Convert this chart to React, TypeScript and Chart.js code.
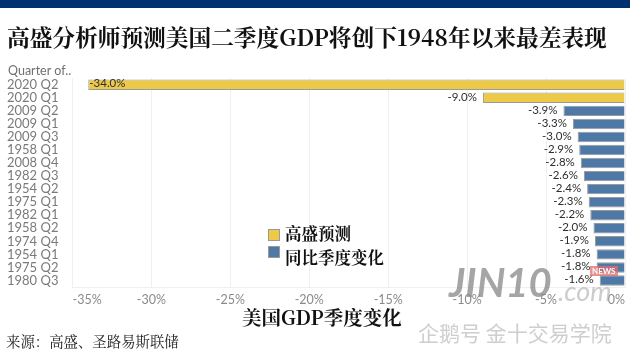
import React, { useEffect, useRef } from "react";
import { Chart, registerables } from "chart.js";

Chart.register(...registerables);

const categories = ["2020 Q2","2020 Q1","2009 Q2","2009 Q1","2009 Q3","1958 Q1","2008 Q4","1982 Q3","1954 Q2","1975 Q1","1982 Q1","1958 Q2","1974 Q4","1954 Q1","1975 Q2","1980 Q3"];
const forecast = [-34, -9, null, null, null, null, null, null, null, null, null, null, null, null, null, null];
const yoyChange = [null, null, -3.9, -3.3, -3.0, -2.9, -2.8, -2.6, -2.4, -2.3, -2.2, -2.0, -1.9, -1.8, -1.8, -1.6];
const titleText = "高盛分析师预测美国二季度GDP将创下1948年以来最差表现";
const xTitle = "美国GDP季度变化";
const legendNames = ["高盛预测", "同比季度变化"];
const YELLOW = "#EDC948";
const BLUE = "#4E79A7";
const SERIF = '"Noto Serif CJK SC","Liberation Serif","Noto Sans CJK SC",serif';
const SANS = 'Lato,"Open Sans",sans-serif';

const valueLabels = {
  id: "valueLabels",
  afterDatasetsDraw(chart: any) {
    const { ctx, chartArea } = chart;
    ctx.save();
    ctx.font = `11.5px ${SANS}`;
    ctx.fillStyle = "#2e2e2e";
    ctx.textBaseline = "middle";
    chart.data.datasets.forEach((ds: any, di: number) => {
      chart.getDatasetMeta(di).data.forEach((el: any, i: number) => {
        const v = ds.data[i];
        if (v == null) return;
        const s = v.toFixed(1) + "%";
        const w = ctx.measureText(s).width;
        if (el.x - 6 - w < chartArea.left) {
          ctx.textAlign = "left";
          ctx.fillText(s, el.x + 1, el.y - 1);
        } else {
          ctx.textAlign = "right";
          ctx.fillText(s, el.x - 6, el.y - 1);
        }
      });
    });
    ctx.restore();
  },
};

const abs = (o: React.CSSProperties): React.CSSProperties => ({ position: "absolute", whiteSpace: "nowrap", ...o });

export default function App() {
  const ref = useRef<HTMLCanvasElement>(null);
  useEffect(() => {
    document.body.style.margin = "0";
    const chart = new Chart(ref.current as HTMLCanvasElement, {
      type: "bar",
      data: {
        labels: categories,
        datasets: [
          { label: legendNames[0], data: forecast, backgroundColor: YELLOW, borderColor: "#9a9a9a", borderWidth: 1, barPercentage: 0.8, categoryPercentage: 1 },
          { label: legendNames[1], data: yoyChange, backgroundColor: BLUE, borderColor: "#9a9a9a", borderWidth: 1, barPercentage: 0.8, categoryPercentage: 1 },
        ],
      } as any,
      plugins: [valueLabels],
      options: {
        indexAxis: "y",
        animation: false,
        responsive: false,
        layout: { padding: { left: 7, right: 2, top: 0, bottom: 26 } },
        plugins: {
          legend: { display: false },
          tooltip: { enabled: false },
          title: {
            display: true,
            text: titleText,
            align: "start",
            color: "#111",
            font: { family: SERIF, size: 22.7, weight: "bold" },
            padding: { top: 24, bottom: 27 },
          },
        },
        scales: {
          x: {
            min: -35,
            max: 0,
            afterFit: (s: any) => { s.height = 41; },
            grid: { color: "#efefef", drawTicks: false },
            border: { color: "#efefef" },
            ticks: { stepSize: 5, align: "inner", maxRotation: 0, color: "#8a8a8a", padding: 5, font: { family: SANS, size: 12.5 }, callback: (v: any) => `${v}%` },
          },
          y: {
            stacked: true,
            afterFit: (s: any) => { s.width = 65.5; },
            grid: { display: false, drawTicks: false },
            border: { color: "#efefef" },
            ticks: { crossAlign: "far", autoSkip: false, color: "#7a7a7a", padding: 4, font: { family: SANS, size: 13 } },
          },
        },
      },
    } as any);
    return () => chart.destroy();
  }, []);
  return (
    <div style={{ position: "relative", width: 630, height: 354, overflow: "hidden", background: "#fff" }}>
      <canvas ref={ref} width={630} height={354} style={{ display: "block" }} />
      <div style={abs({ left: 0, top: 0, width: 630, height: 8, background: "#003070" })} />
      <div style={abs({ left: 8, top: 63, font: `12.5px ${SANS}`, color: "#707070" })}>Quarter of..</div>
      <div style={abs({ left: 268, top: 229, width: 10, height: 10, background: YELLOW, border: "1px solid #9a9a9a" })} />
      <div style={abs({ left: 268, top: 246, width: 10, height: 10, background: BLUE, border: "1px solid #9a9a9a" })} />
      <div style={abs({ left: 285, top: 221, font: `bold 16.5px ${SERIF}`, color: "#111" })}>{legendNames[0]}</div>
      <div style={abs({ left: 285, top: 245, font: `bold 16.5px ${SERIF}`, color: "#111" })}>{legendNames[1]}</div>
      <div style={abs({ left: 242, top: 303, font: `bold 19.5px ${SERIF}`, color: "#111" })}>{xTitle}</div>
      <div style={abs({ left: 6, top: 330, font: `14.4px ${SERIF}`, color: "#222" })}>来源：高盛、圣路易斯联储</div>
      <div style={abs({ left: 449, top: 258, font: `italic bold 40px ${SANS}`, color: "rgba(135,135,135,0.75)" })}>JIN10</div>
      <div style={abs({ left: 558, top: 274, font: `italic 27px ${SANS}`, color: "rgba(170,170,170,0.6)" })}>.com</div>
      <div style={abs({ left: 590, top: 266, font: `bold 8px ${SANS}`, color: "#fff", background: "rgba(225,110,110,0.75)", padding: "0 2px" })}>NEWS</div>
      <div style={abs({ left: 418, top: 317, font: `21px "Noto Sans CJK SC",sans-serif`, color: "rgba(190,190,190,0.75)" })}>企鹅号 金十交易学院</div>
    </div>
  );
}
